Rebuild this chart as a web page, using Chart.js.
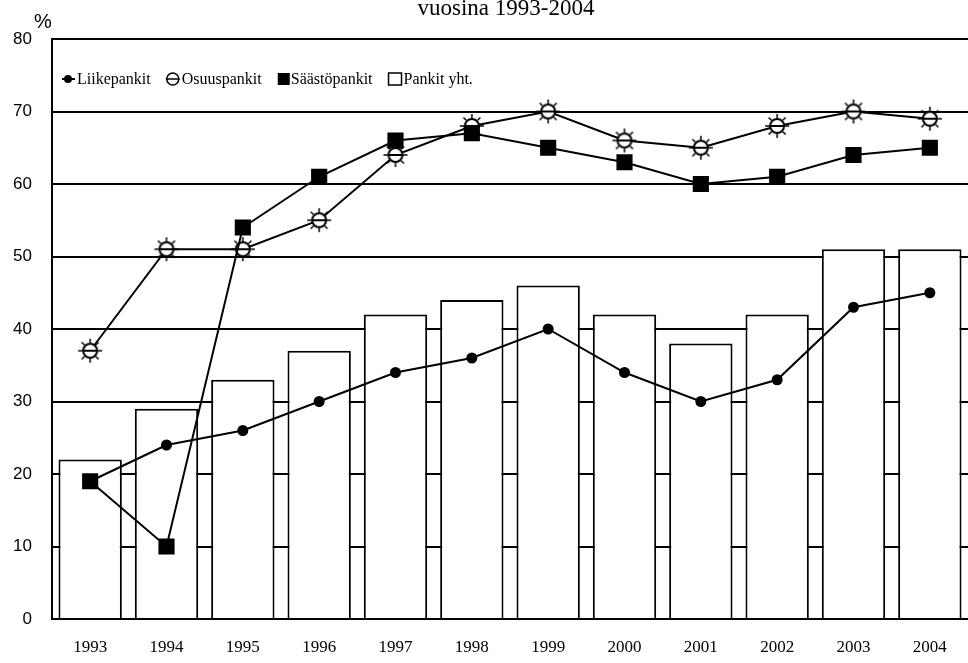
<!DOCTYPE html>
<html>
<head>
<meta charset="utf-8">
<script src="https://cdn.jsdelivr.net/npm/chart.js@4/dist/chart.umd.min.js"></script>
<style>
  html, body { margin: 0; padding: 0; background: #fff; overflow: hidden; }
  #wrap { width: 968px; height: 663px; }
  canvas { display: block; }
</style>
</head>
<body>
<div id="wrap"><canvas id="chart" width="968" height="663"></canvas></div>
<script>
var years = ['1993', '1994', '1995', '1996', '1997', '1998', '1999', '2000', '2001', '2002', '2003', '2004'];
var liikepankit = [19, 24, 26, 30, 34, 36, 40, 34, 30, 33, 43, 45];
var osuuspankit = [37, 51, 51, 55, 64, 68, 70, 66, 65, 68, 70, 69];
var saastopankit = [19, 10, 54, 61, 66, 67, 65, 63, 60, 61, 64, 65];
var pankitYht = [22, 29, 33, 37, 42, 44, 46, 42, 38, 42, 51, 51];
var yTicks = [0, 10, 20, 30, 40, 50, 60, 70, 80];
var title = 'vuosina 1993-2004';
var legendLabels = ['Liikepankit', 'Osuuspankit', 'Säästöpankit', 'Pankit yht.'];

// sun-shaped marker for Osuuspankit
function makeSun() {
    var c = document.createElement('canvas');
    c.width = 28; c.height = 28;
    var g = c.getContext('2d');
    var cx = 14, cy = 14;
    g.strokeStyle = '#000';
    g.lineWidth = 1.5;
    for (var i = 0; i < 8; i++) {
        var a = i * Math.PI / 4;
        g.beginPath();
        g.moveTo(cx + Math.cos(a) * 8, cy + Math.sin(a) * 8);
        g.lineTo(cx + Math.cos(a) * 12, cy + Math.sin(a) * 12);
        g.stroke();
    }
    g.beginPath();
    g.arc(cx, cy, 7, 0, Math.PI * 2);
    g.fillStyle = '#fff';
    g.fill();
    g.lineWidth = 2;
    g.stroke();
    g.beginPath();
    g.moveTo(cx - 7, cy);
    g.lineTo(cx + 7, cy);
    g.stroke();
    return c;
}
var sun = makeSun();

var extras = {
    id: 'extras',
    afterDraw: function(chart) {
        var ctx = chart.ctx;
        ctx.save();
        ctx.fillStyle = '#000';
        ctx.font = '23px "Liberation Serif"';
        ctx.textAlign = 'center';
        ctx.textBaseline = 'alphabetic';
        ctx.fillText(title, 506, 15);
        ctx.font = '20px "Liberation Sans"';
        ctx.textAlign = 'left';
        ctx.fillText('%', 34, 28);

        // legend inside plot area
        ctx.font = '16px "Liberation Serif"';
        ctx.textBaseline = 'middle';
        ctx.strokeStyle = '#000';
        var x = 62, y = 79;
        for (var i = 0; i < legendLabels.length; i++) {
            ctx.lineWidth = 2;
            if (i === 0) {
                ctx.beginPath(); ctx.moveTo(x, y); ctx.lineTo(x + 13, y); ctx.stroke();
                ctx.beginPath(); ctx.arc(x + 6, y, 4, 0, Math.PI * 2); ctx.fill();
                x += 15;
            } else if (i === 1) {
                ctx.lineWidth = 1.5;
                ctx.beginPath(); ctx.arc(x + 6, y, 6, 0, Math.PI * 2); ctx.stroke();
                ctx.beginPath(); ctx.moveTo(x - 1, y); ctx.lineTo(x + 13, y); ctx.stroke();
                x += 15;
            } else if (i === 2) {
                ctx.fillRect(x, y - 6, 12, 12);
                x += 13;
            } else {
                ctx.lineWidth = 1.5;
                ctx.strokeRect(x, y - 6, 13, 12);
                x += 15;
            }
            ctx.fillText(legendLabels[i], x, y + 1);
            x += ctx.measureText(legendLabels[i]).width + 16;
        }
        ctx.restore();
    }
};

var ctx = document.getElementById('chart').getContext('2d');
var chart = new Chart(ctx, {
    data: {
        labels: years,
        datasets: [{
            type: 'line',
            label: 'Liikepankit',
            data: liikepankit,
            borderColor: '#000',
            backgroundColor: '#000',
            borderWidth: 2,
            pointStyle: 'circle',
            pointRadius: 4.5,
            order: 1
        }, {
            type: 'line',
            label: 'Säästöpankit',
            data: saastopankit,
            borderColor: '#000',
            backgroundColor: '#000',
            borderWidth: 2,
            pointStyle: 'rect',
            pointRadius: 10,
            order: 2
        }, {
            type: 'line',
            label: 'Osuuspankit',
            data: osuuspankit,
            borderColor: '#000',
            backgroundColor: '#fff',
            borderWidth: 2,
            pointStyle: sun,
            order: 3
        }, {
            type: 'bar',
            label: 'Pankit yht.',
            data: pankitYht,
            backgroundColor: '#fff',
            borderColor: '#000',
            borderWidth: 2,
            barPercentage: 0.83,
            categoryPercentage: 1,
            order: 4
        }]
    },
    options: {
        responsive: false,
        animation: false,
        layout: { autoPadding: false, padding: { top: 39, right: 0, left: 0, bottom: 0 } },
        plugins: {
            legend: { display: false },
            tooltip: { enabled: false }
        },
        scales: {
            x: {
                offset: true,
                grid: { display: false, drawTicks: false },
                border: { display: true, color: '#000', width: 2 },
                ticks: {
                    color: '#000',
                    font: { family: 'Liberation Serif', size: 17 },
                    padding: 18,
                    maxRotation: 0
                },
                afterFit: function(scale) {
                    scale.height = 44;
                    scale.paddingLeft = 0;
                    scale.paddingRight = 0;
                }
            },
            y: {
                min: 0,
                max: 80,
                afterBuildTicks: function(scale) {
                    scale.ticks = yTicks.map(function(v) { return { value: v }; });
                },
                grid: { color: '#000', lineWidth: 2, drawTicks: false },
                border: { display: true, color: '#000', width: 2 },
                ticks: {
                    color: '#000',
                    font: { family: 'Liberation Sans', size: 17 },
                    padding: 20
                },
                afterFit: function(scale) { scale.width = 52; }
            }
        }
    },
    plugins: [extras]
});
</script>
</body>
</html>
